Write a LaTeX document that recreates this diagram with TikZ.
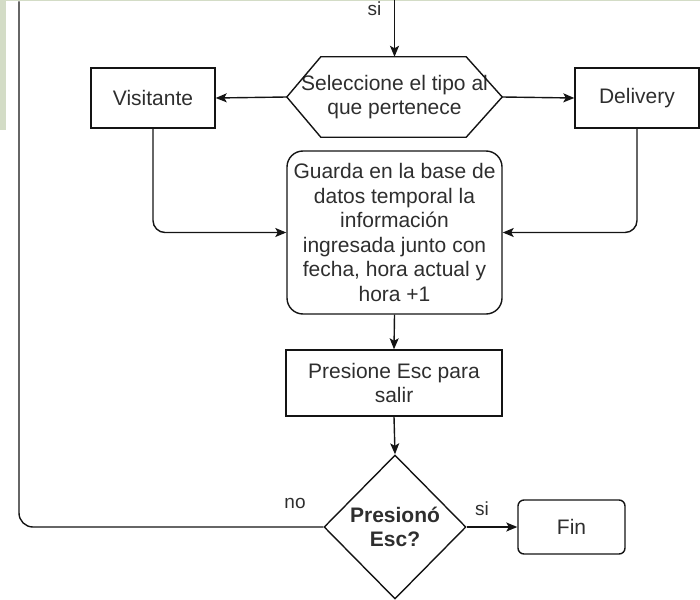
\documentclass[tikz,border=0pt]{standalone}
\usepackage{fontspec}
\setmainfont{Liberation Sans}
\usetikzlibrary{arrows.meta,shapes.geometric}
\definecolor{panel}{HTML}{D3DCC6}
\definecolor{txt}{HTML}{2E2E2E}
\begin{document}
\begin{tikzpicture}[x=1pt,y=-1pt,
  every node/.style={font=\fontsize{21}{24.5}\selectfont, text=txt},
  line/.style={draw=black!92, line width=1.4pt},
  arr/.style={line, -{Stealth[length=11pt,width=9pt,inset=2.5pt]}},
  box/.style={draw=black!92, line width=1.4pt, rectangle, inner sep=0pt, align=center},
  lbl/.style={font=\fontsize{19}{22}\selectfont, inner sep=0pt}]
\useasboundingbox (0,0) rectangle (700,599);
\fill[panel] (0,0) rectangle (6,130);
\fill[panel] (6,0) rectangle (700,1.5);

\node[box, minimum width=124pt, minimum height=60pt] (vis) at (153,98) {Visitante};
\node[box, minimum width=124pt, minimum height=60pt] (del) at (637,98) {Delivery};
\node[align=center, minimum width=215pt, minimum height=80pt, inner sep=0pt] (sel) at (394.5,97) {Seleccione el tipo al\\que pertenece};
\draw[line] (sel.west) -- ([xshift=34pt]sel.north west) -- ([xshift=-36pt]sel.north east) -- (sel.east) -- ([xshift=-36pt]sel.south east) -- ([xshift=34pt]sel.south west) -- cycle;

\node[box, rounded corners=16pt, minimum width=215pt, minimum height=163pt] (gua) at (394.5,232.5) {Guarda en la base de\\datos temporal la\\información\\ingresada junto con\\fecha, hora actual y\\hora +1};
\node[box, minimum width=216pt, minimum height=66pt] (pre) at (394,383) {Presione Esc para\\salir};
\node[diamond, shape aspect=1, draw=black!92, line width=1.4pt, inner sep=0pt, align=center, minimum width=142pt, minimum height=144pt] (dec) at (395,527) {\bfseries Presionó\\\bfseries Esc?};
\node[box, rounded corners=6pt, minimum width=107pt, minimum height=54pt] (fin) at (571.5,527) {Fin};

\coordinate (inTop) at (394.5,0);
\draw[arr] (inTop) -- (sel.north);
\node[lbl] (si1) at (374.5,9) {si};
\draw[arr] (sel.west) -- (vis.east);
\draw[arr] (sel.east) -- (del.west);
\draw[arr, rounded corners=12pt] (vis.south) |- (gua.west);
\draw[arr, rounded corners=12pt] (del.south) |- (gua.east);
\draw[arr] (gua.south) -- (pre.north);
\draw[arr] (pre.south) -- (dec.north);
\draw[arr] (dec.east) -- (fin.west);
\coordinate (loopTop) at (19,1.5);
\draw[line, rounded corners=14pt] (dec.west) -| (loopTop);
\node[lbl] (no) at (295,503) {no};
\node[lbl] (si2) at (482,509) {si};
\end{tikzpicture}
\end{document}
